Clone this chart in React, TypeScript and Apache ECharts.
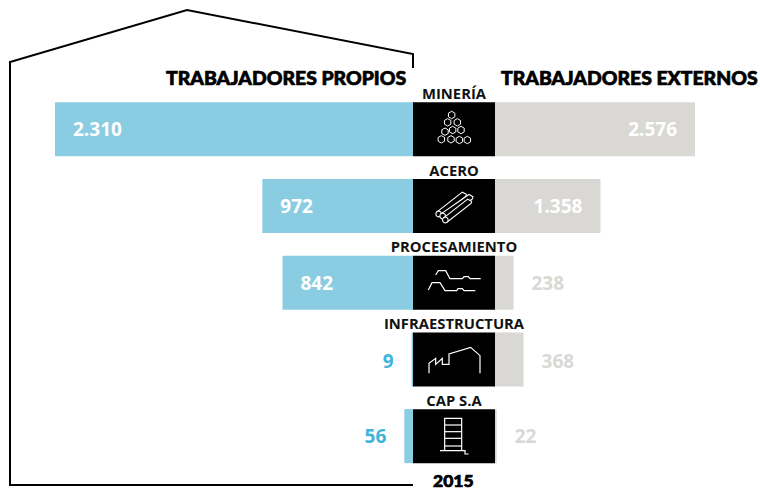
import React, { useEffect, useRef } from "react";
import * as echarts from "echarts";

const categories = ["MINERÍA", "ACERO", "PROCESAMIENTO", "INFRAESTRUCTURA", "CAP S.A"];
const propios = [2310, 972, 842, 9, 56];
const externos = [2576, 1358, 238, 368, 22];
const centre = [1, 1, 1, 1, 1];
const titleLeft = "TRABAJADORES PROPIOS";
const titleRight = "TRABAJADORES EXTERNOS";
const year = "2015";

const BLUE = "#8accE1";
const GREY = "#d9d8d4";
const CYAN = "#3db4d8";
const LABEL_FONT = "'Open Sans', sans-serif";
const TITLE_FONT = "Lato, sans-serif";

const fmt = (v: number) => String(v).replace(/\B(?=(\d{3})+$)/g, ".");

function hex(cx: number, cy: number, r = 3.7) {
  const pts: number[][] = [];
  for (let i = 0; i < 6; i++) {
    const a = Math.PI / 6 + (i * Math.PI) / 3;
    pts.push([cx + r * Math.cos(a), cy + r * Math.sin(a)]);
  }
  return { type: "polygon", z: 20, shape: { points: pts }, style: { fill: "transparent", stroke: "#fff", lineWidth: 1 }, silent: true };
}
const line = (pts: number[][], w = 1.2) => ({
  type: "polyline",
  z: 20,
  shape: { points: pts },
  style: { fill: "transparent", stroke: "#fff", lineWidth: w },
  silent: true,
});
const z = (ox: number, oy: number, pts: number[][]) => pts.map(([x, y]) => [ox + x / 3, oy + y / 3]);

// one steel tube: a black body with white edges and a round open end
function tube(x1: number, y1: number, x2: number, y2: number, order: number) {
  const dx = 5;
  const dy = 6.5;
  const toPx = (x: number, y: number) => [400 + x / 3, 80 + y / 3];
  return [
    {
      type: "polygon",
      z: 20 + order,
      shape: { points: [toPx(x1 - dx, y1 - dy), toPx(x2 - dx, y2 - dy), toPx(x2 + dx + 2, y2), toPx(x2 + dx, y2 + dy), toPx(x1 + dx, y1 + dy)] },
      style: { fill: "#000", stroke: "#fff", lineWidth: 1.1 },
      silent: true,
    },
    {
      type: "circle",
      z: 20 + order,
      shape: { cx: 400 + x1 / 3, cy: 80 + y1 / 3, r: 2.8 },
      style: { fill: "#000", stroke: "#fff", lineWidth: 1.1 },
      silent: true,
    },
  ];
}

const icons = [
  ...[[155,105],[143,127],[172,127],[135,155],[158,150],[183,150],[124,178],[153,178],[178,180],[202,180]].map(([x, y]) =>
    hex(400 + x / 3, 80 + y / 3)
  ),
  // steel tubes
  ...tube(116, 402, 192, 343, 0),
  ...tube(128, 408, 212, 350, 1),
  ...tube(136, 420, 208, 364, 2),
  // processing
  line(z(400, 240, [[107,105],[115,92],[137,92],[150,116],[187,116],[192,110],[205,110],[210,116],[242,116]])),
  line(z(400, 240, [[85,150],[96,128],[120,128],[135,152],[170,152],[174,146],[187,146],[192,152],[226,152]])),
  // factory
  line(z(400, 240, [[87,400],[87,370],[107,355],[107,373],[127,355],[127,373],[147,373],[147,342],[212,322],[240,347],[240,400]])),
  // scaffold
  line(z(360, 385, [[254,197],[254,100],[305,100],[305,197]])),
  line(z(360, 385, [[254,120],[305,120]])),
  line(z(360, 385, [[254,140],[305,140]])),
  line(z(360, 385, [[254,160],[305,160]])),
  line(z(360, 385, [[254,183],[305,183]])),
  line(z(360, 385, [[240,197],[315,197],[315,207],[326,207]])),
];

const item = (v: number, i: number, inside: boolean, side: "left" | "right") => ({
  value: v,
  label: {
    show: true,
    formatter: fmt(v),
    position: inside ? (side === "left" ? "insideLeft" : "insideRight") : side,
    distance: 18,
    offset: [0, i === 3 ? 2 : 0],
    color: inside ? "#fff" : side === "left" ? CYAN : GREY,
    fontFamily: LABEL_FONT,
    fontWeight: 700,
    fontSize: 19,
  },
});

const title = (text: string, left: number, top: number, size = 19.4) => ({
  text,
  left,
  top,
  padding: 0,
  textStyle: {
    fontFamily: TITLE_FONT,
    fontWeight: 900,
    fontSize: size,
    lineHeight: size - 4,
    color: "#000",
    textBorderColor: "#000",
    textBorderWidth: 0.7,
  },
});

const catAxis = (gridIndex: number) => ({
  type: "category" as const,
  data: categories,
  inverse: true,
  gridIndex,
  show: false,
});

export default function App() {
  const ref = useRef<HTMLDivElement>(null);
  useEffect(() => {
    const chart = echarts.init(ref.current!, undefined, { renderer: "svg" });
    const bar = { type: "bar" as const, barWidth: 54, silent: true };
    chart.setOption({
      animation: false,
      backgroundColor: "#fff",
      title: [title(titleLeft, 166, 70), title(titleRight, 501, 70), title(year, 433, 474, 17.5)],
      grid: [
        { left: 55, width: 358, top: 91, height: 383.5 },
        { left: 413, width: 82, top: 91, height: 383.5 },
        { left: 495, width: 200, top: 91, height: 383.5 },
      ],
      xAxis: [
        { type: "value", gridIndex: 0, min: 0, max: 2310, inverse: true, show: false },
        { type: "value", gridIndex: 1, min: 0, max: 1, show: false },
        { type: "value", gridIndex: 2, min: 0, max: 2576, show: false },
      ],
      yAxis: [catAxis(0), catAxis(1), catAxis(2)],
      series: [
        {
          ...bar,
          name: titleLeft,
          xAxisIndex: 0,
          yAxisIndex: 0,
          itemStyle: { color: BLUE },
          data: propios.map((v, i) => item(v, i, v > 100, "left")),
        },
        {
          ...bar,
          name: "sector",
          xAxisIndex: 1,
          yAxisIndex: 1,
          itemStyle: { color: "#000" },
          data: centre,
          label: {
            show: true,
            position: "top",
            distance: 2.5,
            formatter: (p: any) => p.name,
            color: "#111",
            fontFamily: LABEL_FONT,
            fontWeight: 700,
            fontSize: 14.8,
            lineHeight: 14,
          },
        },
        {
          ...bar,
          name: titleRight,
          xAxisIndex: 2,
          yAxisIndex: 2,
          itemStyle: { color: GREY },
          data: externos.map((v, i) => item(v, i, v > 500, "right")),
        },
      ],
      graphic: [
        {
          type: "polyline",
          z: 20,
          shape: { points: [[413, 68], [413, 54], [187, 10], [10, 62], [10, 485], [413, 485]] },
          style: { fill: "transparent", stroke: "#000", lineWidth: 2 },
          silent: true,
        },
        ...icons,
      ],
    });
    return () => chart.dispose();
  }, []);
  return <div ref={ref} style={{ position: "absolute", left: 0, top: 0, width: 760, height: 489 }} />;
}
